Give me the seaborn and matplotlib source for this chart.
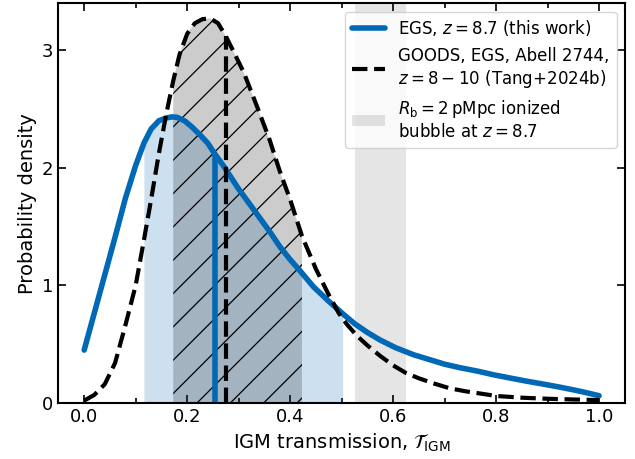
import numpy as np
import seaborn as sns
import matplotlib.pyplot as plt

# EGS z=8.7 posterior of IGM transmission
egs_x = [0.00, 0.02, 0.04, 0.06, 0.08, 0.10, 0.116, 0.13, 0.145, 0.16, 0.17, 0.18,
         0.195, 0.21, 0.225, 0.24, 0.255, 0.27, 0.285, 0.30, 0.32, 0.34, 0.36, 0.38,
         0.40, 0.42, 0.445, 0.475, 0.502, 0.525, 0.55, 0.575, 0.605, 0.64, 0.67, 0.70,
         0.73, 0.765, 0.795, 0.83, 0.86, 0.89, 0.92, 0.95, 0.975, 1.00]
egs_y = [0.45, 0.77, 1.09, 1.41, 1.74, 2.02, 2.21, 2.33, 2.40, 2.425, 2.433, 2.43,
         2.40, 2.345, 2.28, 2.21, 2.11, 2.02, 1.92, 1.82, 1.70, 1.58, 1.46, 1.33,
         1.22, 1.12, 0.99, 0.865, 0.76, 0.675, 0.60, 0.535, 0.47, 0.41, 0.37, 0.33,
         0.30, 0.27, 0.24, 0.21, 0.185, 0.162, 0.138, 0.112, 0.088, 0.062]

# Tang+2024b z=8-10 posterior
tang_x = [0.00, 0.02, 0.04, 0.06, 0.08, 0.10, 0.115, 0.13, 0.145, 0.16, 0.173, 0.185,
          0.20, 0.215, 0.23, 0.245, 0.26, 0.275, 0.29, 0.31, 0.335, 0.36, 0.38, 0.40,
          0.423, 0.45, 0.475, 0.495, 0.51, 0.53, 0.55, 0.575, 0.60, 0.625, 0.65, 0.68,
          0.71, 0.74, 0.77, 0.80, 0.85, 0.90, 0.95, 1.00]
tang_y = [0.02, 0.07, 0.16, 0.34, 0.66, 1.00, 1.36, 1.73, 2.12, 2.47, 2.74, 2.96,
          3.14, 3.23, 3.265, 3.27, 3.23, 3.12, 2.99, 2.81, 2.53, 2.24, 1.97, 1.73,
          1.42, 1.14, 0.92, 0.76, 0.67, 0.57, 0.49, 0.40, 0.32, 0.255, 0.21, 0.165,
          0.125, 0.10, 0.08, 0.06, 0.045, 0.036, 0.03, 0.025]

# medians and 68% intervals
egs_med, egs_lo, egs_hi = 0.255, 0.116, 0.502
tang_med, tang_lo, tang_hi = 0.275, 0.173, 0.423
bubble_lo, bubble_hi = 0.525, 0.625

blue = "#0068b4"

sns.set_style("ticks", {"axes.edgecolor": "black", "text.color": "black",
                        "axes.labelcolor": "black", "xtick.color": "black",
                        "ytick.color": "black"})
plt.rcParams["font.family"] = ["DejaVu Sans"]
plt.rcParams["hatch.linewidth"] = 0.9

fig, ax = plt.subplots(figsize=(6.35, 4.59), dpi=100)
fig.subplots_adjust(left=0.092, right=0.984, top=0.993, bottom=0.122)

ex, ey = np.array(egs_x), np.array(egs_y)
tx, ty = np.array(tang_x), np.array(tang_y)

# ionized bubble band
ax.axvspan(bubble_lo, bubble_hi, color="k", alpha=0.1, lw=0,
           label="$R_\\mathrm{b}=2\\,\\mathrm{pMpc}$ ionized\nbubble at $z=8.7$")

# 68% regions
ax.fill_between(ex, 0, ey, where=(ex >= egs_lo) & (ex <= egs_hi),
                color=blue, alpha=0.2, lw=0)
ax.fill_between(tx, 0, ty, where=(tx >= tang_lo) & (tx <= tang_hi),
                facecolor=(0, 0, 0, 0.2), edgecolor="k", hatch="/", lw=0)

sns.lineplot(x=egs_x, y=egs_y, ax=ax, color=blue, lw=4, sort=False,
             label="EGS, $z=8.7$ (this work)")
sns.lineplot(x=tang_x, y=tang_y, ax=ax, color="k", lw=3, ls="--", sort=False,
             label="GOODS, EGS, Abell 2744,\n$z=8-10$ (Tang+2024b)")

ax.plot([egs_med, egs_med], [0, ey[egs_x.index(egs_med)]], color=blue, lw=4)
ax.plot([tang_med, tang_med], [0, ty[tang_x.index(tang_med)]], color="k", lw=3, ls="--")

ax.set_xlim(-0.05, 1.05)
ax.set_ylim(0, 3.4)
ax.set_xticks([0.0, 0.2, 0.4, 0.6, 0.8, 1.0])
ax.set_xticks(np.arange(0.1, 1.0, 0.2), minor=True)
ax.set_yticks([0, 1, 2, 3])
ax.tick_params(which="both", direction="in", top=True, right=True, width=1.2,
               labelsize=13)
ax.tick_params(which="major", length=6)
ax.tick_params(which="minor", length=3.5)
for s in ax.spines.values():
    s.set_linewidth(1.5)

ax.set_xlabel("IGM transmission, $\\mathcal{T}_\\mathrm{IGM}$", fontsize=14)
ax.set_ylabel("Probability density", fontsize=14)

h, l = ax.get_legend_handles_labels()
order = [1, 2, 0]
ax.legend([h[i] for i in order], [l[i] for i in order], loc="upper right", fontsize=12)

fig.savefig("out.png", dpi=100)
